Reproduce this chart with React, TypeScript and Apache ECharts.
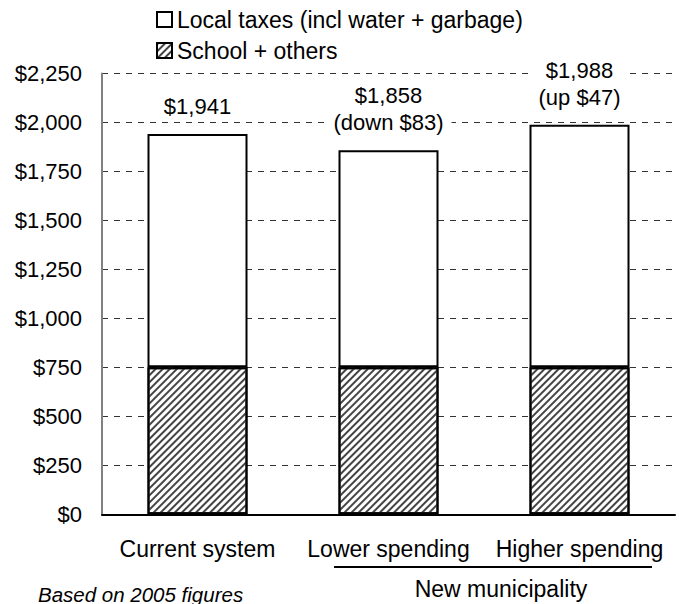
import React, { useEffect, useRef } from "react";
import * as echarts from "echarts";

const categories = ["Current system", "Lower spending", "Higher spending"];
const schoolValues = [750, 750, 750];
const localValues = [1191, 1108, 1238];
const totalLabels = ["$1,941", "$1,858\n(down $83)", "$1,988\n(up $47)"];
const seriesNames = ["Local taxes (incl water + garbage)", "School + others"];
const groupLabel = "New municipality";
const footnote = "Based on 2005 figures";

const FONT = "'Liberation Sans', Arial, Helvetica, sans-serif";

export default function App() {
  const ref = useRef<HTMLDivElement>(null);
  useEffect(() => {
    if (!ref.current) return;
    const chart = echarts.init(ref.current, null, { renderer: "svg" });
    const fmt = (v: number) => "$" + v.toLocaleString("en-US");
    const hatch = {
      symbol: "rect",
      symbolSize: 1,
      dashArrayX: [1, 0],
      dashArrayY: [2, 2.5],
      rotation: -Math.PI / 4,
      color: "#444",
    };
    chart.setOption({
      animation: false,
      backgroundColor: "#ffffff",
      textStyle: { fontFamily: FONT },
      grid: { left: 102, right: 9, top: 73.5, bottom: 89.7 },
      legend: {
        orient: "vertical",
        left: 156,
        top: 8,
        padding: 0,
        itemWidth: 15,
        itemHeight: 15,
        itemGap: 8,
        icon: "rect",
        data: [seriesNames[0], seriesNames[1]],
        textStyle: { fontSize: 23, lineHeight: 23, color: "#000", fontFamily: FONT },
      },
      xAxis: {
        type: "category",
        data: categories,
        axisLine: { show: true, lineStyle: { color: "#000", width: 2 } },
        axisTick: { show: false },
        axisLabel: {
          fontSize: 23,
          color: "#000",
          margin: 23,
          interval: 0,
          hideOverlap: false,
          fontFamily: FONT,
        },
      },
      yAxis: {
        type: "value",
        min: 0,
        max: 2250,
        interval: 250,
        axisLine: { show: true, lineStyle: { color: "#808080", width: 2 } },
        axisTick: { show: false },
        axisLabel: { fontSize: 22, color: "#000", margin: 20, formatter: fmt, fontFamily: FONT },
        splitLine: { show: true, lineStyle: { color: "#333", width: 1, type: [6, 6] } },
      },
      series: [
        {
          name: seriesNames[1],
          type: "bar",
          stack: "total",
          data: schoolValues,
          barWidth: 100,
          itemStyle: {
            color: "#ffffff",
            borderColor: "#000",
            borderWidth: 2,
            decal: hatch,
          },
        },
        {
          name: seriesNames[0],
          type: "bar",
          stack: "total",
          data: localValues,
          barWidth: 100,
          itemStyle: { color: "#ffffff", borderColor: "#000", borderWidth: 2 },
          label: {
            show: true,
            position: "top",
            distance: 12,
            fontSize: 22,
            lineHeight: 27,
            color: "#000",
            backgroundColor: "#ffffff",
            padding: [0, 8, 2, 8],
            fontFamily: FONT,
            formatter: (p: any) => totalLabels[p.dataIndex],
          },
        },
      ],
      graphic: [
        {
          type: "line",
          shape: { x1: 334, y1: 567, x2: 652, y2: 567 },
          style: { stroke: "#000", lineWidth: 2 },
        },
        {
          type: "text",
          x: 501,
          y: 589,
          style: {
            text: groupLabel,
            fontSize: 23,
            fontFamily: FONT,
            fill: "#000",
            align: "center",
            verticalAlign: "middle",
          },
        },
        {
          type: "text",
          x: 38,
          y: 594,
          style: {
            text: footnote,
            fontSize: 20.5,
            fontStyle: "italic",
            fontFamily: FONT,
            fill: "#000",
            align: "left",
            verticalAlign: "middle",
          },
        },
      ],
    });
    return () => chart.dispose();
  }, []);
  return (
    <div
      ref={ref}
      style={{ position: "fixed", left: 0, top: 0, width: 684, height: 604 }}
    />
  );
}
